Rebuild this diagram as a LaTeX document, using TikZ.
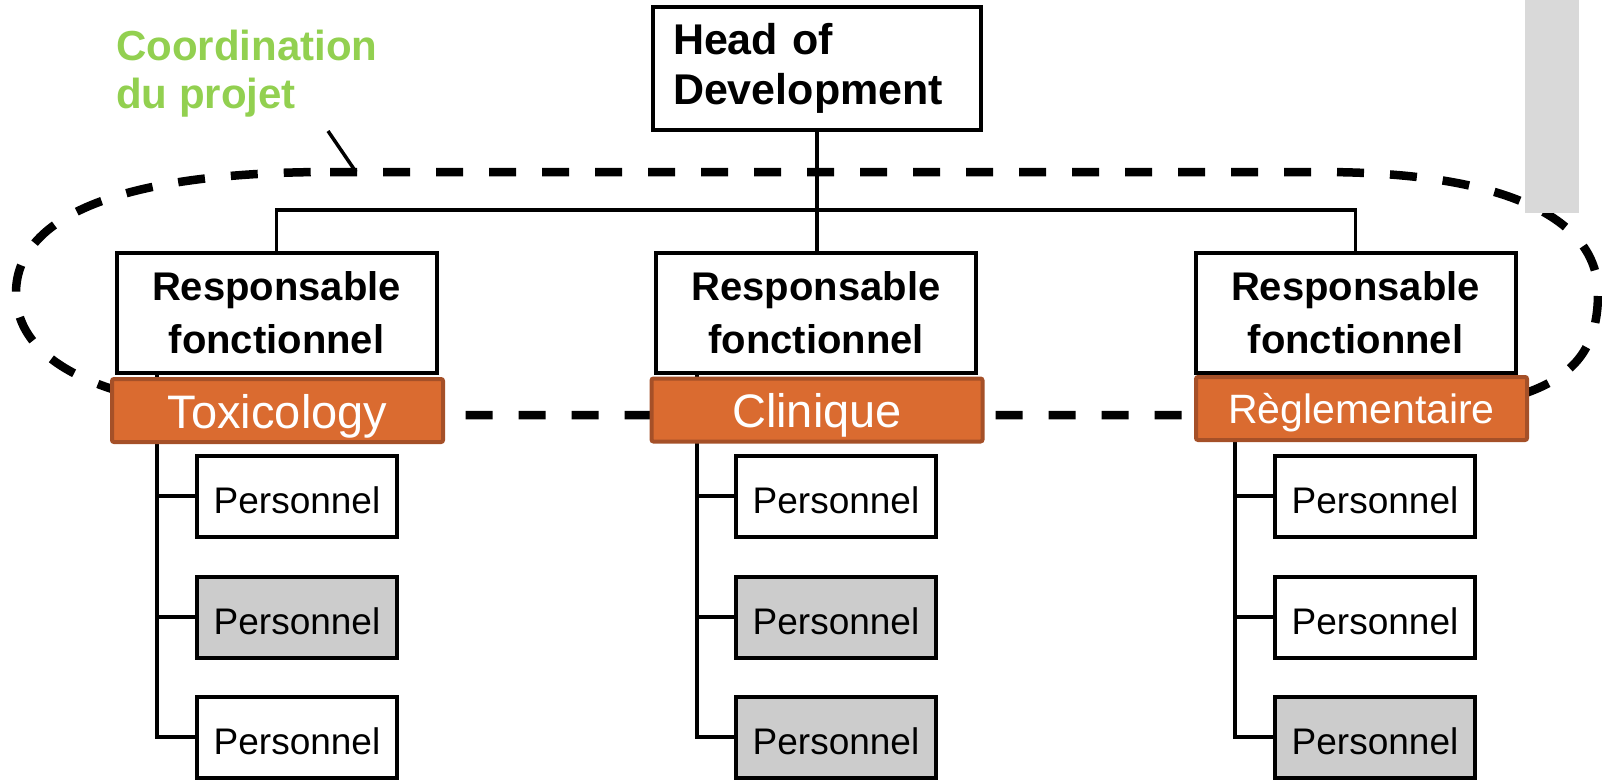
\documentclass[tikz,border=0pt]{standalone}
\usepackage{fontspec}
\setmainfont{Liberation Sans}
\definecolor{leafgreen}{RGB}{146,208,80}
\definecolor{rust}{RGB}{218,107,48}
\definecolor{rustdark}{RGB}{165,80,40}
\definecolor{panelgray}{RGB}{217,217,217}
\definecolor{staffgray}{RGB}{204,204,204}

\begin{document}
\begin{tikzpicture}[x=1pt,y=-1pt,
  box/.style={draw=black,line width=4pt,fill=white,inner sep=0pt},
  headbox/.style={box,minimum width=328pt,minimum height=123pt,text width=288pt,align=left,
    font=\bfseries\fontsize{43}{50}\selectfont},
  respbox/.style={box,minimum width=320pt,minimum height=120pt,align=center,
    font=\bfseries\fontsize{40}{53}\selectfont},
  tagbox/.style={draw=rustdark,fill=rust,line width=4pt,rounded corners=2pt,
    minimum width=331pt,minimum height=63pt,inner sep=0pt,text=white,
    text height=35pt,text depth=0pt,font=\fontsize{47}{50}\selectfont},
  staff/.style={box,minimum width=200pt,minimum height=81pt,text height=34pt,text depth=0pt,
    font=\fontsize{37}{40}\selectfont},
  shaded/.style={fill=staffgray},
  link/.style={line width=3.5pt},
  ring/.style={line width=8.5pt,dash pattern=on 27pt off 26pt}
]
\useasboundingbox (0,0) rectangle (1602,779);

% dashed outline around the functional managers
\draw[ring] (330,172) -- (1320,172)
  .. controls (1520,172) and (1598,225) .. (1598,293)
  .. controls (1598,380) and (1540,415) .. (1320,415)
  -- (330,415)
  .. controls (110,415) and (16,365) .. (16,293)
  .. controls (16,225) and (100,172) .. (330,172) -- cycle;

% grey panel at the top right
\fill[panelgray] (1525,0) rectangle (1579,213);

% project coordination label and its pointer
\node[anchor=north west,inner sep=0pt,align=left,text=leafgreen,
  font=\bfseries\fontsize{42}{48}\selectfont] (coord) at (116,29.5) {Coordination\\du projet};
\coordinate (ptrA) at (328,131);
\coordinate (ptrB) at (356,172);
\draw[link] (ptrA) -- (ptrB);

% top of the hierarchy
\node[headbox] (head) at (817,68.5) {Head of\\Development};
\node[respbox] (r1) at (276.5,313) {Responsable\\fonctionnel};
\node[respbox] (r2) at (816,313) {Responsable\\fonctionnel};
\node[respbox] (r3) at (1355.5,313) {Responsable\\fonctionnel};

\draw[link] (head.south) -- (head.south |- r2.north);
\draw[link] (r1.north) -- ++(0,-41) -| (r3.north);

% staff boxes
\node[staff] (p11) at (297,496) {Personnel};
\node[staff,shaded] (p12) at (297,617) {Personnel};
\node[staff] (p13) at (297,737) {Personnel};
\node[staff] (p21) at (836,496) {Personnel};
\node[staff,shaded] (p22) at (836,617) {Personnel};
\node[staff,shaded] (p23) at (836,737) {Personnel};
\node[staff] (p31) at (1375,496) {Personnel};
\node[staff] (p32) at (1375,617) {Personnel};
\node[staff,shaded] (p33) at (1375,737) {Personnel};

% column spines
\coordinate (c1) at (157,373);
\coordinate (c2) at (697,373);
\coordinate (c3) at (1235,373);
\foreach \c in {1,2,3}{
  \draw[link] (c\c) |- (p\c3.west);
  \draw[link] (c\c |- p\c1.west) -- (p\c1.west);
  \draw[link] (c\c |- p\c2.west) -- (p\c2.west);
}

% department tags
\node[tagbox] (t1) at (277.5,410.5) {Toxicology};
\node[tagbox,text height=34pt] (t2) at (817,410) {Clinique};
\node[tagbox,text height=29pt,font=\fontsize{41}{44}\selectfont] (t3) at (1361.5,408.5) {Règlementaire};
\end{tikzpicture}
\end{document}
